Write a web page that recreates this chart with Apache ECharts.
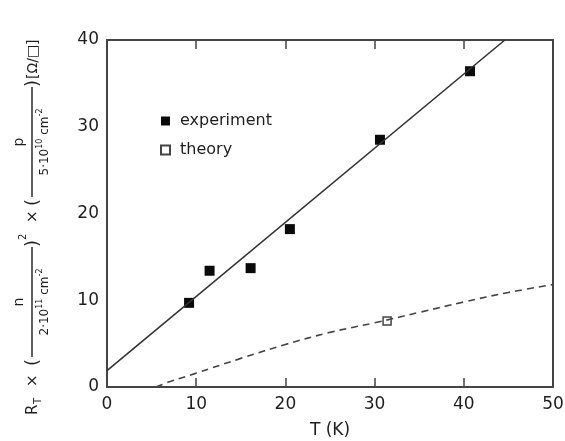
<!DOCTYPE html>
<html>
<head>
<meta charset="utf-8">
<script src="https://cdn.jsdelivr.net/npm/echarts@6/dist/echarts.min.js"></script>
<style>
html,body{margin:0;padding:0;background:#fff;}
#c{width:565px;height:441px;}
</style>
</head>
<body>
<div id="c"></div>
<script>
// ---- data ----
const expT = [9.2, 11.5, 16.1, 20.5, 30.6, 40.7];
const expR = [9.7, 13.4, 13.7, 18.2, 28.5, 36.4];
const theoryT = [31.4];
const theoryR = [7.6];
const fitT = [0, 44.6];
const fitR = [1.9, 40];
const curveT = [5.5, 7, 10, 15, 20, 25, 30, 35, 40, 45, 50];
const curveR = [0, 0.6, 1.6, 3.3, 4.9, 6.3, 7.4, 8.6, 9.8, 10.9, 11.8];
const xTicks = [0, 10, 20, 30, 40, 50];
const yTicks = [0, 10, 20, 30, 40];
const seriesNames = ['experiment', 'theory'];
const xName = 'T (K)';

const zip = (a, b) => a.map((v, i) => [v, b[i]]);
const FONT = '"DejaVu Sans", sans-serif';
const INK = '#1e1e1e';

// ---- y-axis label (rotated formula) built from text pieces ----
const ctx = document.createElement('canvas').getContext('2d');
function w(t, s) { ctx.font = s + 'px ' + FONT; return ctx.measureText(t).width; }
function txt(t, x, y, s, align) {
  return { type: 'text', style: { text: t, x: x, y: y, font: s + 'px ' + FONT, fill: INK,
    textAlign: align || 'left', align: align || 'left', textVerticalAlign: 'middle', verticalAlign: 'middle' } };
}
function run(pieces, cx, y) {
  let total = 0; pieces.forEach(p => total += w(p[0], p[1]));
  let x = cx - total / 2; const out = [];
  pieces.forEach(p => { out.push(txt(p[0], x, y + (p[2] ? -5 : 0), p[1])); x += w(p[0], p[1]); });
  return out;
}
function frac(num, den, x1, x2) {
  const cx = (x1 + x2) / 2;
  return [
    { type: 'line', shape: { x1: x1, y1: -1, x2: x2, y2: -1 }, style: { stroke: INK, lineWidth: 1.4 } },
    txt(num, cx, -14, 14, 'center')
  ].concat(run(den, cx, 12));
}
let labelChildren = [];
labelChildren.push(txt('R', 0, 0, 15));
labelChildren.push(txt('T', 11, 5, 10));
labelChildren.push(txt('×', 28, 0, 15));
labelChildren.push(txt('(', 49, 0, 18));
labelChildren = labelChildren.concat(frac('n', [['2·10', 12], ['11', 8, true], [' cm', 12], ['-2', 8, true]], 58, 168));
labelChildren.push(txt(')', 168, 0, 18));
labelChildren.push(txt('2', 175, -10, 10));
labelChildren.push(txt('×', 192, 0, 15));
labelChildren.push(txt('(', 209, 0, 18));
labelChildren = labelChildren.concat(frac('p', [['5·10', 12], ['10', 8, true], [' cm', 12], ['-2', 8, true]], 218, 328));
labelChildren.push(txt(')', 328, 0, 18));
labelChildren.push(txt('[Ω/□]', 336, 0, 14));

const chart = echarts.init(document.getElementById('c'), null, { renderer: 'canvas' });
const axisLine = { show: true, onZero: false, lineStyle: { color: '#444', width: 2 } };
const tick = { inside: true, length: 9, lineStyle: { color: '#444', width: 1.5 } };
const labelStyle = { fontSize: 17, color: INK, fontFamily: FONT };
chart.setOption({
  animation: false,
  backgroundColor: '#fff',
  grid: { left: 107, right: 12, top: 40, bottom: 54, containLabel: false, outerBoundsMode: 'none' },
  legend: {
    data: seriesNames, orient: 'vertical', left: 155, top: 108,
    itemWidth: 9, itemHeight: 9, itemGap: 13,
    textStyle: { fontSize: 16, color: INK, fontFamily: FONT, padding: [0, 0, 0, 5] }
  },
  xAxis: [{
    type: 'value', min: xTicks[0], max: xTicks[xTicks.length - 1], interval: 10,
    axisLine: axisLine, splitLine: { show: false }, axisTick: tick,
    axisLabel: Object.assign({ margin: 9 }, labelStyle),
    name: xName, nameLocation: 'middle', nameGap: 35,
    nameTextStyle: { fontSize: 17, color: INK, fontFamily: FONT }
  }, {
    type: 'value', position: 'top', min: xTicks[0], max: xTicks[xTicks.length - 1], interval: 10,
    axisLine: axisLine, splitLine: { show: false }, axisTick: tick,
    axisLabel: { show: false }
  }],
  yAxis: [{
    type: 'value', min: yTicks[0], max: yTicks[yTicks.length - 1], interval: 10,
    axisLine: axisLine, splitLine: { show: false }, axisTick: { show: false },
    axisLabel: Object.assign({ margin: 8 }, labelStyle)
  }, {
    type: 'value', position: 'right', min: yTicks[0], max: yTicks[yTicks.length - 1], interval: 10,
    axisLine: axisLine, splitLine: { show: false }, axisTick: { show: false }, axisLabel: { show: false }
  }],
  graphic: [{ type: 'group', x: 33, y: 415, rotation: Math.PI / 2, children: labelChildren }],
  series: [
    { type: 'line', data: zip(fitT, fitR), showSymbol: false, clip: true,
      lineStyle: { color: '#333', width: 1.6 }, silent: true },
    { type: 'line', data: zip(curveT, curveR), showSymbol: false, smooth: 0.4, clip: true,
      lineStyle: { color: '#444', width: 1.6, type: [7, 5] }, silent: true },
    { name: seriesNames[0], type: 'scatter', data: zip(expT, expR), symbol: 'rect', symbolSize: 10,
      itemStyle: { color: '#0a0a0a', opacity: 1 } },
    { name: seriesNames[1], type: 'scatter', data: zip(theoryT, theoryR), symbol: 'rect', symbolSize: 8,
      itemStyle: { color: '#fff', borderColor: '#444', borderWidth: 1.5, opacity: 1 } }
  ]
});
</script>
</body>
</html>
